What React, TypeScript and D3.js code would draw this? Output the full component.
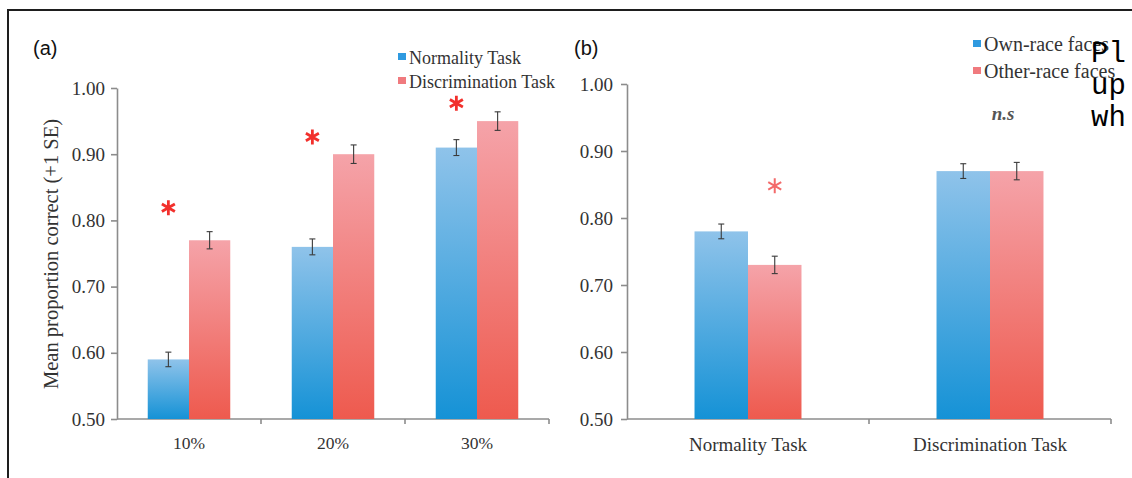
import React, { useEffect, useRef } from "react";
import * as d3 from "d3";

// panel (a): proportion of distortion
const aCategories = ["10%", "20%", "30%"];
const aNormality = [0.59, 0.76, 0.91];
const aNormalitySE = [0.011, 0.012, 0.012];
const aDiscrimination = [0.77, 0.9, 0.95];
const aDiscriminationSE = [0.013, 0.014, 0.014];
const aStarLevels = [0.819, 0.926, 0.977];

// panel (b): own vs other race
const bCategories = ["Normality Task", "Discrimination Task"];
const bOwnRace = [0.78, 0.87];
const bOwnRaceSE = [0.011, 0.011];
const bOtherRace = [0.73, 0.87];
const bOtherRaceSE = [0.013, 0.013];
const bStarLevels = [0.848, null];
const bNsLevels = [null, 0.955];

const yTicks = [0.5, 0.6, 0.7, 0.8, 0.9, 1.0];
const noteLines = ["Pl", "up", "wh"];

const SERIF = "'Liberation Serif', 'Times New Roman', serif";
const TEXT = "#333";
const AXIS = "#8c8c8c";

function drawPanel(g, cfg) {
  const y = d3.scaleLinear().domain([0.5, 1]).range(cfg.yRange);
  const x0 = d3
    .scaleBand()
    .domain(cfg.categories)
    .range(cfg.xRange)
    .paddingInner(cfg.padding)
    .paddingOuter(cfg.padding / 2);
  const x1 = d3
    .scaleBand()
    .domain(cfg.series.map((s) => s.name))
    .range([0, x0.bandwidth()]);

  // y axis
  const yAxis = d3
    .axisLeft(y)
    .tickValues(yTicks)
    .tickFormat(d3.format(".2f"))
    .tickSize(6)
    .tickSizeOuter(0)
    .tickPadding(cfg.tickPad);
  const yAxisG = g
    .append("g")
    .attr("transform", `translate(${cfg.xRange[0]},0)`)
    .call(yAxis);
  yAxisG.selectAll("path, line").attr("stroke", AXIS).attr("stroke-width", 1.6);
  yAxisG
    .selectAll("text")
    .attr("font-family", SERIF)
    .attr("font-size", cfg.tickFont)
    .attr("fill", TEXT);

  // x axis, ticks sit between categories
  const base = y(0.5);
  g.append("line")
    .attr("x1", cfg.xRange[0])
    .attr("x2", cfg.xRange[1])
    .attr("y1", base)
    .attr("y2", base)
    .attr("stroke", AXIS)
    .attr("stroke-width", 1.6);
  const step = x0.step();
  g.selectAll(".xtick")
    .data(cfg.categories)
    .enter()
    .append("line")
    .attr("x1", (d, i) => cfg.xRange[0] + (i + 1) * step)
    .attr("x2", (d, i) => cfg.xRange[0] + (i + 1) * step)
    .attr("y1", base)
    .attr("y2", base + 5)
    .attr("stroke", AXIS)
    .attr("stroke-width", 1.6);
  g.selectAll(".xlabel")
    .data(cfg.categories)
    .enter()
    .append("text")
    .attr("x", (d) => x0(d) + x0.bandwidth() / 2)
    .attr("y", base + cfg.labelDy)
    .attr("text-anchor", "middle")
    .attr("font-family", SERIF)
    .attr("font-size", cfg.catFont)
    .attr("fill", TEXT)
    .text((d) => d);

  // bars
  cfg.series.forEach((s) => {
    g.selectAll(null)
      .data(cfg.categories)
      .enter()
      .append("rect")
      .attr("x", (d) => x0(d) + x1(s.name))
      .attr("y", (d, i) => y(s.values[i]))
      .attr("width", x1.bandwidth())
      .attr("height", (d, i) => base - y(s.values[i]))
      .attr("fill", `url(#${s.grad})`);

    const eb = g
      .selectAll(null)
      .data(cfg.categories)
      .enter()
      .append("g")
      .attr("stroke", "#3a3a3a")
      .attr("stroke-width", 1.1);
    const cx = (d) => x0(d) + x1(s.name) + x1.bandwidth() / 2;
    eb.append("line")
      .attr("x1", cx)
      .attr("x2", cx)
      .attr("y1", (d, i) => y(s.values[i] + s.se[i]))
      .attr("y2", (d, i) => y(s.values[i] - s.se[i]));
    [1, -1].forEach((sign) => {
      eb.append("line")
        .attr("x1", (d) => cx(d) - 3)
        .attr("x2", (d) => cx(d) + 3)
        .attr("y1", (d, i) => y(s.values[i] + sign * s.se[i]))
        .attr("y2", (d, i) => y(s.values[i] + sign * s.se[i]));
    });
  });

  // significance markers
  const starSeries = cfg.series[cfg.starSeries];
  cfg.categories.forEach((c, i) => {
    const lvl = cfg.stars[i];
    if (lvl == null) return;
    const cx = x0(c) + x1(starSeries.name) + x1.bandwidth() / 2;
    const cy = y(lvl);
    const r = cfg.starR;
    const d = [90, 30, 150]
      .map((a) => {
        const rad = (a * Math.PI) / 180;
        const dx = Math.cos(rad) * r;
        const dy = Math.sin(rad) * r;
        return `M${cx - dx},${cy - dy}L${cx + dx},${cy + dy}`;
      })
      .join("");
    g.append("path")
      .attr("d", d)
      .attr("stroke", cfg.starColor)
      .attr("stroke-width", cfg.starWidth)
      .attr("stroke-linecap", "butt");
  });
  if (cfg.ns) {
    cfg.categories.forEach((c, i) => {
      const lvl = cfg.ns[i];
      if (lvl == null) return;
      g.append("text")
        .attr("x", x0(c) + x0.bandwidth() / 2 + 13)
        .attr("y", y(lvl) + 6)
        .attr("text-anchor", "middle")
        .attr("font-family", SERIF)
        .attr("font-style", "italic")
        .attr("font-weight", "bold")
        .attr("font-size", 19)
        .attr("fill", "#555")
        .text("n.s");
    });
  }

  // legend
  const lg = g.append("g");
  cfg.series.forEach((s, i) => {
    const ly = cfg.legend.y + i * cfg.legend.gap;
    lg.append("rect")
      .attr("x", cfg.legend.x)
      .attr("y", ly - 11)
      .attr("width", 8)
      .attr("height", 7)
      .attr("fill", s.swatch);
    lg.append("text")
      .attr("x", cfg.legend.x + 11)
      .attr("y", ly)
      .attr("font-family", SERIF)
      .attr("font-size", cfg.legend.font)
      .attr("fill", TEXT)
      .text(s.name);
  });

  // panel letter
  g.append("text")
    .attr("x", cfg.letter.x)
    .attr("y", 55)
    .attr("font-family", "'Liberation Sans', Arial, sans-serif")
    .attr("font-size", 20)
    .attr("fill", "#111")
    .text(cfg.letter.text);
}

export default function App() {
  const ref = useRef(null);

  useEffect(() => {
    const svg = d3.select(ref.current);
    svg.selectAll("*").remove();

    const defs = svg.append("defs");
    const grads = [
      { id: "gradBlue", top: "#8fc3ea", bottom: "#1592d6" },
      { id: "gradRed", top: "#f5a3a9", bottom: "#ee5a4e" },
    ];
    grads.forEach((gr) => {
      const lg = defs
        .append("linearGradient")
        .attr("id", gr.id)
        .attr("x1", 0)
        .attr("y1", 0)
        .attr("x2", 0)
        .attr("y2", 1);
      lg.append("stop").attr("offset", "0%").attr("stop-color", gr.top);
      lg.append("stop").attr("offset", "100%").attr("stop-color", gr.bottom);
    });

    svg
      .append("rect")
      .attr("width", 1132)
      .attr("height", 478)
      .attr("fill", "#fff");

    // frame
    svg
      .append("path")
      .attr("d", "M8,478V10H1132")
      .attr("fill", "none")
      .attr("stroke", "#1e1e1e")
      .attr("stroke-width", 2);

    drawPanel(svg.append("g"), {
      categories: aCategories,
      series: [
        { name: "Normality Task", values: aNormality, se: aNormalitySE, grad: "gradBlue", swatch: "#2f9ae0" },
        { name: "Discrimination Task", values: aDiscrimination, se: aDiscriminationSE, grad: "gradRed", swatch: "#f07a7e" },
      ],
      yRange: [419, 88],
      xRange: [117, 549],
      padding: 0.427,
      tickPad: 6,
      tickFont: 19,
      catFont: 17.5,
      labelDy: 30,
      stars: aStarLevels,
      starSeries: 0,
      starColor: "#f2302c",
      starWidth: 2.8,
      starR: 7.5,
      legend: { x: 398, y: 64, gap: 24, font: 18 },
      letter: { x: 33, text: "(a)" },
    });

    drawPanel(svg.append("g"), {
      categories: bCategories,
      series: [
        { name: "Own-race faces", values: bOwnRace, se: bOwnRaceSE, grad: "gradBlue", swatch: "#2f9ae0" },
        { name: "Other-race faces", values: bOtherRace, se: bOtherRaceSE, grad: "gradRed", swatch: "#f07a7e" },
      ],
      yRange: [419, 84],
      xRange: [627, 1111],
      padding: 0.558,
      tickPad: 8,
      tickFont: 19,
      catFont: 19,
      labelDy: 32,
      stars: bStarLevels,
      starSeries: 1,
      starColor: "#f36a6a",
      starWidth: 2,
      starR: 7.5,
      ns: bNsLevels,
      legend: { x: 973, y: 51, gap: 27, font: 20 },
      letter: { x: 574, text: "(b)" },
    });

    // y axis title of panel (a)
    svg
      .append("text")
      .attr("transform", "translate(58,254) rotate(-90)")
      .attr("text-anchor", "middle")
      .attr("font-family", SERIF)
      .attr("font-size", 20.5)
      .attr("fill", TEXT)
      .text("Mean proportion correct (+1 SE)");

    // stray monospace text at the right edge
    svg
      .selectAll(".note")
      .data(noteLines)
      .enter()
      .append("text")
      .attr("x", 1091)
      .attr("y", (d, i) => 62 + i * 32)
      .attr("font-family", "'Liberation Mono', 'Courier New', monospace")
      .attr("font-size", 29)
      .attr("fill", "#000")
      .text((d) => d);
  }, []);

  return (
    <svg
      ref={ref}
      width={1132}
      height={478}
      style={{ position: "absolute", left: 0, top: 0, display: "block" }}
    />
  );
}
